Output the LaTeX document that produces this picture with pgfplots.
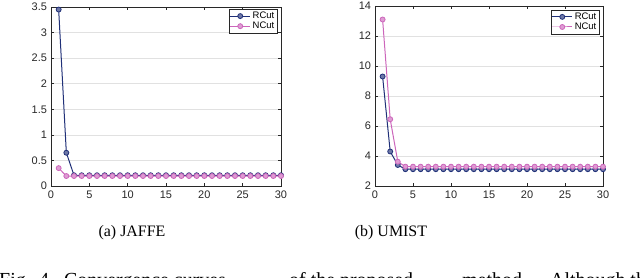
\documentclass[border=0pt]{standalone}
\usepackage{pgfplots}
\pgfplotsset{compat=1.18}
\usepackage{fontspec}
\setmainfont{Liberation Serif}
\newfontfamily\sans{Liberation Sans}
\definecolor{rcut}{RGB}{32,48,120}
\definecolor{ncut}{RGB}{204,102,187}
\definecolor{axgray}{RGB}{40,40,40}
\definecolor{gridgray}{RGB}{225,225,225}
\pgfplotsset{
  mystyle/.style={
    scale only axis,
    anchor=south west,
    axis line style={axgray, line width=0.5bp},
    tick style={axgray, line width=0.5bp},
    tick align=inside,
    major tick length=3bp,
    xmin=0, xmax=30,
    xtick={0,5,...,30},
    ymajorgrids,
    major grid style={gridgray, line width=0.5bp},
    /pgf/number format/assume math mode=true,
    tick label style={font=\sans\fontsize{11}{13}\selectfont, text=axgray},
    xticklabel style={yshift=-1bp},
    yticklabel style={xshift=-0.5bp},
    legend style={font=\sans\fontsize{9.5}{11}\selectfont, draw=axgray, line width=0.5bp,
      inner sep=1bp, row sep=-2bp, cells={anchor=west}, fill=white},
    legend image code/.code={
      \draw[#1, mark repeat=2, mark phase=2] plot coordinates {(0bp,0bp) (10bp,0bp) (20bp,0bp)};
    },
    legend cell align=left,
  },
  rc/.style={rcut, line width=1bp, mark=*, mark size=2.5bp,
    mark options={fill=rcut!65!white, draw=rcut, line width=0.8bp}},
  nc/.style={ncut, line width=1bp, mark=*, mark size=2.5bp,
    mark options={fill=ncut!65!white, draw=ncut, line width=0.8bp}},
}
\begin{document}
\begin{tikzpicture}
\useasboundingbox (0,0) rectangle (640bp,278bp);
\begin{axis}[mystyle, at={(51bp,92bp)}, width=230bp, height=179bp,
  ymin=0, ymax=3.5, ytick={0,0.5,...,3.5},
  yticklabels={0,0.5,1,1.5,2,2.5,3,3.5},
  legend style={at={(rel axis cs:0.985,0.99)}, anchor=north east}]
\addplot[rc] coordinates {(1,3.45)(2,0.65)(3,0.21)(4,0.21)(5,0.21)(6,0.21)(7,0.21)(8,0.21)(9,0.21)(10,0.21)(11,0.21)(12,0.21)(13,0.21)(14,0.21)(15,0.21)(16,0.21)(17,0.21)(18,0.21)(19,0.21)(20,0.21)(21,0.21)(22,0.21)(23,0.21)(24,0.21)(25,0.21)(26,0.21)(27,0.21)(28,0.21)(29,0.21)(30,0.21)};
\addplot[nc] coordinates {(1,0.35)(2,0.195)(3,0.195)(4,0.195)(5,0.195)(6,0.195)(7,0.195)(8,0.195)(9,0.195)(10,0.195)(11,0.195)(12,0.195)(13,0.195)(14,0.195)(15,0.195)(16,0.195)(17,0.195)(18,0.195)(19,0.195)(20,0.195)(21,0.195)(22,0.195)(23,0.195)(24,0.195)(25,0.195)(26,0.195)(27,0.195)(28,0.195)(29,0.195)(30,0.195)};
\legend{RCut,NCut}
\end{axis}
\begin{axis}[mystyle, at={(375bp,92bp)}, width=228bp, height=180bp,
  ymin=2, ymax=14, ytick={2,4,...,14},
  legend style={at={(rel axis cs:0.985,0.98)}, anchor=north east}]
\addplot[rc] coordinates {(1,9.3)(2,4.3)(3,3.4)(4,3.12)(5,3.12)(6,3.12)(7,3.12)(8,3.12)(9,3.12)(10,3.12)(11,3.12)(12,3.12)(13,3.12)(14,3.12)(15,3.12)(16,3.12)(17,3.12)(18,3.12)(19,3.12)(20,3.12)(21,3.12)(22,3.12)(23,3.12)(24,3.12)(25,3.12)(26,3.12)(27,3.12)(28,3.12)(29,3.12)(30,3.12)};
\addplot[nc] coordinates {(1,13.1)(2,6.45)(3,3.62)(4,3.29)(5,3.29)(6,3.29)(7,3.29)(8,3.29)(9,3.29)(10,3.29)(11,3.29)(12,3.29)(13,3.29)(14,3.29)(15,3.29)(16,3.29)(17,3.29)(18,3.29)(19,3.29)(20,3.29)(21,3.29)(22,3.29)(23,3.29)(24,3.29)(25,3.29)(26,3.29)(27,3.29)(28,3.29)(29,3.29)(30,3.29)};
\legend{RCut,NCut}
\end{axis}
\node[anchor=base, font=\fontsize{16}{18}\selectfont, inner sep=0pt] at (132bp,41bp) {(a) JAFFE};
\node[anchor=base, font=\fontsize{16}{18}\selectfont, inner sep=0pt] at (391bp,41bp) {(b) UMIST};
\begin{scope}[every node/.style={anchor=base west, font=\fontsize{20}{22}\selectfont, inner sep=0pt}]
\node at (-1bp,-8bp) {Fig.};
\node at (39bp,-8bp) {4.};
\node at (64bp,-8bp) {Convergence curves};
\node at (289bp,-8bp) {of the proposed};
\node at (462bp,-8bp) {method.};
\node at (550bp,-8bp) {Although the};
\end{scope}
\end{tikzpicture}
\end{document}
